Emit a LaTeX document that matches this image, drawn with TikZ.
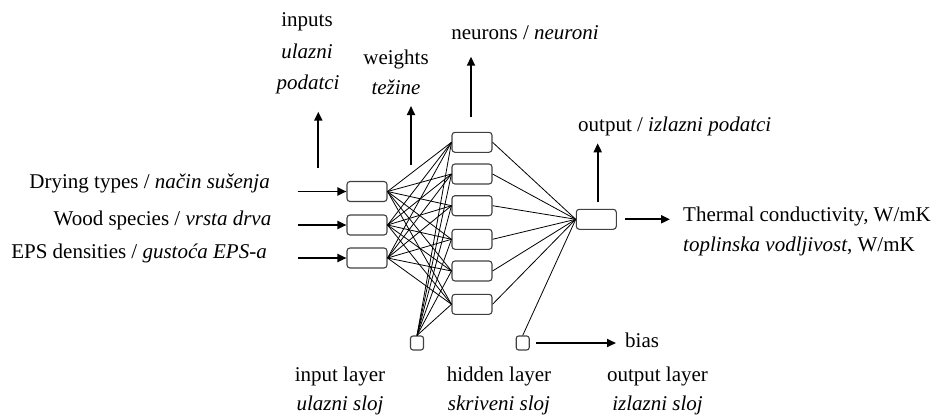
\documentclass[tikz,border=0pt]{standalone}
\usepackage{fontspec}
\setmainfont{Liberation Serif}
\usetikzlibrary{arrows.meta}
\begin{document}
\begin{tikzpicture}[x=1pt,y=-1pt,
  nbox/.style={draw=black!75, line width=1.1pt, rounded corners=3pt, minimum width=40pt, minimum height=20pt, inner sep=0pt},
  bbox/.style={draw=black!75, line width=1.1pt, rounded corners=2.5pt, minimum width=13pt, minimum height=14pt, inner sep=0pt},
  conn/.style={line width=0.8pt},
  arr/.style={line width=1.9pt, -{Triangle[length=9pt,width=8pt]}},
  lbl/.style={font=\fontsize{21}{25}\selectfont, inner sep=0pt, anchor=base},
  lblr/.style={lbl, anchor=base east},
  lbll/.style={lbl, anchor=base west}]
\useasboundingbox (0,0) rectangle (937,415);
% nodes
\node[nbox] (i1) at (367,191.5) {};
\node[nbox] (i2) at (367,225) {};
\node[nbox] (i3) at (367,258) {};
\foreach \k/\yy in {1/142.3,2/174,3/205.7,4/239.3,5/271,6/304.3}
  \node[nbox] (h\k) at (472,\yy) {};
\node[nbox] (o) at (596.3,219.3) {};
\node[bbox] (b1) at (417,343) {};
\node[bbox] (b2) at (522.7,343) {};
% connections
\foreach \i in {1,2,3}
  \foreach \k in {1,...,6}
    \draw[conn] (i\i.east) -- (h\k.west);
\foreach \k in {1,...,6}
  \draw[conn] (b1.north) -- (h\k.west);
\foreach \k in {1,...,6}
  \draw[conn] (h\k.east) -- (o.west);
\draw[conn] (b2.north) -- (o.west);
% input arrows
\coordinate (s1) at (297.7,191.5);
\coordinate (s2) at (297.7,225);
\coordinate (s3) at (297.7,258);
\draw[arr] (s1) -- (i1.west);
\draw[arr] (s2) -- (i2.west);
\draw[arr] (s3) -- (i3.west);
% vertical arrows
\coordinate (ia) at (318.3,168);   \coordinate (ib) at (318.3,111.7);
\coordinate (wa) at (411,165);     \coordinate (wb) at (411,106);
\coordinate (na) at (471,116.5);   \coordinate (nb) at (471,56.7);
\coordinate (oa) at (597.7,201.7); \coordinate (ob) at (597.7,143.3);
\draw[arr] (ia) -- (ib);
\draw[arr] (wa) -- (wb);
\draw[arr] (na) -- (nb);
\draw[arr] (oa) -- (ob);
% horizontal output arrows
\coordinate (ta) at (625,219.3); \coordinate (tb) at (670,219.3);
\coordinate (ba) at (536,343);   \coordinate (bb) at (616,343);
\draw[arr] (ta) -- (tb);
\draw[arr] (ba) -- (bb);
% labels
\node[lbl] (t1) at (307,26.7) {inputs};
\node[lbl] (t2) at (307,58.3) {\textit{ulazni}};
\node[lbl] (t3) at (308,89.3) {\textit{podatci}};
\node[lbl] (t4) at (396,64) {weights};
\node[lbl] (t5) at (396,94.3) {\textit{težine}};
\node[lbl] (t6) at (525,39.5) {neurons / \textit{neuroni}};
\node[lbll] (t7) at (578,131.7) {output / \textit{izlazni podatci}};
\node[lbll] (t8) at (683,221.7) {Thermal conductivity, W/mK};
\node[lbll] (t9) at (683,251.7) {\textit{toplinska vodljivost}, W/mK};
\node[lblr] (t10) at (270,188.3) {Drying types / \textit{način sušenja}};
\node[lblr] (t11) at (271.5,225) {Wood species / \textit{vrsta drva}};
\node[lblr] (t12) at (267,258.3) {EPS densities / \textit{gustoća EPS-a}};
\node[lbll] (t13) at (625,347.3) {bias};
\node[lbl] (t14) at (340,381.7) {input layer};
\node[lbl] (t15) at (340,410) {\textit{ulazni sloj}};
\node[lbl] (t16) at (499,381.7) {hidden layer};
\node[lbl] (t17) at (499,410) {\textit{skriveni sloj}};
\node[lbl] (t18) at (657.5,381.7) {output layer};
\node[lbl] (t19) at (657.5,410) {\textit{izlazni sloj}};
\end{tikzpicture}
\end{document}
